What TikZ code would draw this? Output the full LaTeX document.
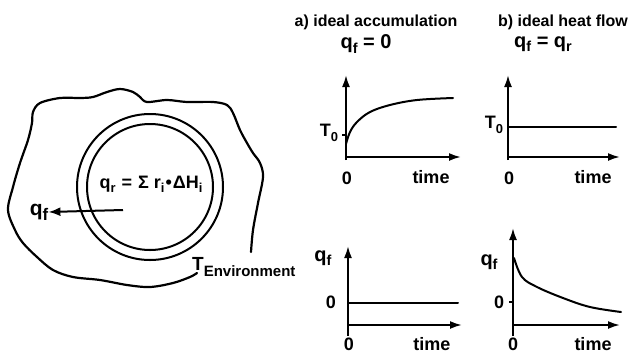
\documentclass[tikz,border=0pt]{standalone}
\usepackage{fontspec}
\setmainfont{Liberation Sans}
\usetikzlibrary{arrows.meta}
\newcommand\lo[2][0.72]{\raisebox{-0.45ex}{\scalebox{#1}{#2}}}
\begin{document}
\begin{tikzpicture}[x=1pt,y=-1pt,
  ln/.style={line width=2pt,line cap=round,line join=round},
  axis/.style={line width=2pt,-{Latex[length=12pt,width=8pt]}},
  lbl/.style={font=\fontsize{18}{20}\selectfont\bfseries,inner sep=0pt},
  qlbl/.style={font=\fontsize{20}{22}\selectfont\bfseries,inner sep=0pt},
  ttl/.style={font=\fontsize{16}{18}\selectfont\bfseries,inner sep=0pt},
  tick/.style={line width=1.2pt}]
\useasboundingbox (0,0) rectangle (629,354);
% environment blob
\draw[ln,line width=2.2pt] plot[smooth,tension=0.55] coordinates {
 (251,252) (253,230) (258,203) (263,177) (260,163) (253,153) (247,143) (240,130)
 (233,113) (227,105) (213,102) (187,102) (167,100) (147,102) (140,97) (133,92)
 (120,89) (107,92) (93,97) (80,98) (60,98) (40,103) (33,112) (32,123) (28,140)
 (20,163) (13,187) (8,210) (15,230) (23,243) (37,257) (53,270) (73,277) (100,280)
 (127,285) (150,287) (173,283) (190,277) (197,273)};
% reactor
\node (c) at (150,187) {};
\draw[ln] (c.center) circle[radius=73];
\draw[ln] (c.center) circle[radius=63];
\node[font=\fontsize{18}{20}\selectfont\bfseries,inner sep=0pt] (qr) at (151,184) {q\lo{r}\hspace{6pt}=\hspace{6pt}Σ\hspace{5pt}r\lo{i}\hspace{1pt}•\hspace{1pt}ΔH\lo{i}};
\coordinate (qs) at (123,210);
\node[qlbl,font=\fontsize{21}{23}\selectfont\bfseries] (qf) at (39,212) {q\lo[0.8]{f}};
\draw[line width=2pt,-{Latex[length=12pt,width=9pt]}] (qs) -- (qf.east);
\node[inner sep=0pt,anchor=base west,font=\bfseries] (tenv) at (192,270) {\fontsize{19}{21}\selectfont T\raisebox{-0.33em}{\fontsize{15}{17}\selectfont Environment}};
% titles
\node[ttl] (ta) at (376,22) {a) ideal accumulation};
\node[ttl,anchor=east] (tb) at (628,22) {b) ideal heat flow};
\node[qlbl] (ha) at (366,44) {q\lo{f} = 0};
\node[qlbl] (hb) at (543,44) {q\lo{f} = q\lo{r}};
% plot A top
\coordinate (a1o) at (346,160); \coordinate (a1t) at (346,75);
\coordinate (a1x) at (346,157); \coordinate (a1e) at (461,157);
\draw[axis] (a1o) -- (a1t);
\draw[axis] (a1x) -- (a1e);
\draw[ln] plot[smooth,tension=0.6] coordinates {(346,144) (350,132) (357,122) (370,112) (390,105) (417,100) (453,98)};
\draw[tick] (342,135) -- (346,135);
\node[lbl] (a1T) at (329,133) {T\lo{0}};
\node[lbl] (a1z) at (347,178) {0};
\node[lbl] (a1tm) at (431,177) {time};
% plot B top
\coordinate (b1o) at (508,160); \coordinate (b1t) at (508,75);
\coordinate (b1x) at (508,157); \coordinate (b1e) at (620,157);
\draw[axis] (b1o) -- (b1t);
\draw[axis] (b1x) -- (b1e);
\coordinate (b1l) at (508,127); \coordinate (b1r) at (616,127);
\draw[ln] (b1l) -- (b1r);
\node[lbl] (b1T) at (494,125) {T\lo{0}};
\node[lbl] (b1z) at (509,178) {0};
\node[lbl] (b1tm) at (593,177) {time};
% plot A bottom
\coordinate (a2o) at (348,336); \coordinate (a2t) at (348,246);
\coordinate (a2x) at (348,325); \coordinate (a2e) at (462,325);
\draw[axis] (a2o) -- (a2t);
\draw[axis] (a2x) -- (a2e);
\coordinate (a2l) at (348,303); \coordinate (a2r) at (458,303);
\draw[ln] (a2l) -- (a2r);
\node[qlbl] (a2q) at (323,258) {q\lo{f}};
\node[lbl] (a2zl) at (331,302) {0};
\node[lbl] (a2z) at (349,344) {0};
\node[lbl] (a2tm) at (432,344) {time};
% plot B bottom
\coordinate (b2o) at (513,336); \coordinate (b2t) at (513,228);
\coordinate (b2x) at (513,325); \coordinate (b2e) at (620,325);
\draw[axis] (b2o) -- (b2t);
\draw[axis] (b2x) -- (b2e);
\draw[ln] plot[smooth,tension=0.6] coordinates {(514,258) (522,277) (537,287) (563,298) (590,307) (621,312)};
\draw[tick] (509,302) -- (513,302);
\node[qlbl] (b2q) at (489,262) {q\lo{f}};
\node[lbl] (b2zl) at (499,302) {0};
\node[lbl] (b2z) at (513,344) {0};
\node[lbl] (b2tm) at (593,344) {time};
\end{tikzpicture}
\end{document}
